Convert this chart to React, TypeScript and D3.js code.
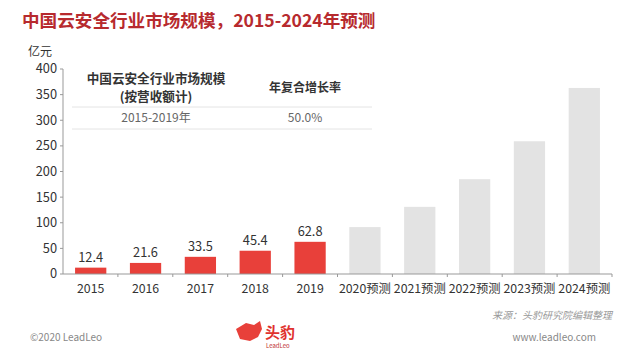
import React from 'react';
import { scaleBand, scaleLinear } from 'd3';

const years = ['2015', '2016', '2017', '2018', '2019', '2020预测', '2021预测', '2022预测', '2023预测', '2024预测'];
const marketSize = [12.4, 21.6, 33.5, 45.4, 62.8, 91.5, 131, 185, 259, 363];
const isForecast = [false, false, false, false, false, true, true, true, true, true];
const yTicks = [0, 50, 100, 150, 200, 250, 300, 350, 400];

const FONT = '"Noto Sans CJK SC", "Noto Sans", sans-serif';

const App: React.FC = () => {
  const width = 624;
  const height = 351;
  const left = 63;
  const right = 612;
  const top = 69;
  const bottom = 274;

  const x = scaleBand<string>().domain(years).range([left, right]).paddingInner(0.43).paddingOuter(0.22);
  const y = scaleLinear().domain([0, 400]).range([bottom, top]);

  return (
    <div style={{ position: 'fixed', left: 0, top: 0, width, height, background: '#fff' }}>
      <svg width={width} height={height} style={{ display: 'block', fontFamily: FONT }}>
        <rect width={width} height={height} fill="#fff" />
        <text x={22} y={27} fontSize={17.6} fontWeight="bold" fill="#b72a2e">
          中国云安全行业市场规模，2015-2024年预测
        </text>
        <text x={28} y={56} fontSize={12} fill="#333">亿元</text>

        {/* y axis */}
        <line x1={left} x2={left} y1={top} y2={bottom} stroke="#999" />
        {yTicks.map(t => (
          <g key={t}>
            <line x1={left - 3} x2={left} y1={y(t)} y2={y(t)} stroke="#999" />
            <text x={57} y={y(t)} dy="0.35em" textAnchor="end" fontSize={12.8} fill="#333">{t}</text>
          </g>
        ))}

        {/* bars */}
        {years.map((yr, i) => (
          <g key={yr}>
            <rect
              x={x(yr)}
              y={y(marketSize[i])}
              width={x.bandwidth()}
              height={bottom - y(marketSize[i])}
              fill={isForecast[i] ? '#e3e3e3' : '#e8403a'}
            />
            {!isForecast[i] && (
              <text x={x(yr)! + x.bandwidth() / 2} y={y(marketSize[i]) - 6} textAnchor="middle" fontSize={12.8} fill="#333">
                {marketSize[i]}
              </text>
            )}
            <text x={x(yr)! + x.bandwidth() / 2} y={293} textAnchor="middle" fontSize={12.3} fill="#333">{yr}</text>
          </g>
        ))}

        {/* x axis */}
        <line x1={left} x2={right} y1={bottom} y2={bottom} stroke="#999" />
        {years.map((yr, i) => {
          const tx = left + (i + 1) * (right - left) / years.length;
          return <line key={yr} x1={tx} x2={tx} y1={bottom} y2={bottom + 3} stroke="#999" />;
        })}

        {/* CAGR table */}
        <text x={156} y={83} textAnchor="middle" fontSize={12.6} fontWeight="bold" fill="#333">中国云安全行业市场规模</text>
        <text x={156} y={101} textAnchor="middle" fontSize={12.6} fontWeight="bold" fill="#333">(按营收额计)</text>
        <text x={305} y={92} textAnchor="middle" fontSize={12} fontWeight="bold" fill="#333">年复合增长率</text>
        <line x1={72} x2={372} y1={107} y2={107} stroke="#e4e4e4" />
        <line x1={72} x2={372} y1={129} y2={129} stroke="#e4e4e4" />
        <text x={156} y={122} textAnchor="middle" fontSize={12} fill="#666">2015-2019年</text>
        <text x={305} y={122} textAnchor="middle" fontSize={12} fill="#666">50.0%</text>

        {/* footer */}
        <text x={612} y={319} textAnchor="end" fontSize={10} fontStyle="italic" fill="#999">来源：头豹研究院编辑整理</text>
        <text x={30} y={341} fontSize={10} fill="#888">©2020 LeadLeo</text>
        <text x={596} y={341} textAnchor="end" fontSize={10} fill="#888">www.leadleo.com</text>
        <path d="M236,329 l10,-6 l8,2 l6,-4 l2,8 l-4,8 l-8,4 l-10,-2 z" fill="#e8403a" />
        <text x={265} y={338} fontSize={15} fontWeight="bold" fill="#e0322e">头豹</text>
        <text x={266} y={348} fontSize={6} fill="#c03030">LeadLeo</text>
      </svg>
    </div>
  );
};

export default App;
